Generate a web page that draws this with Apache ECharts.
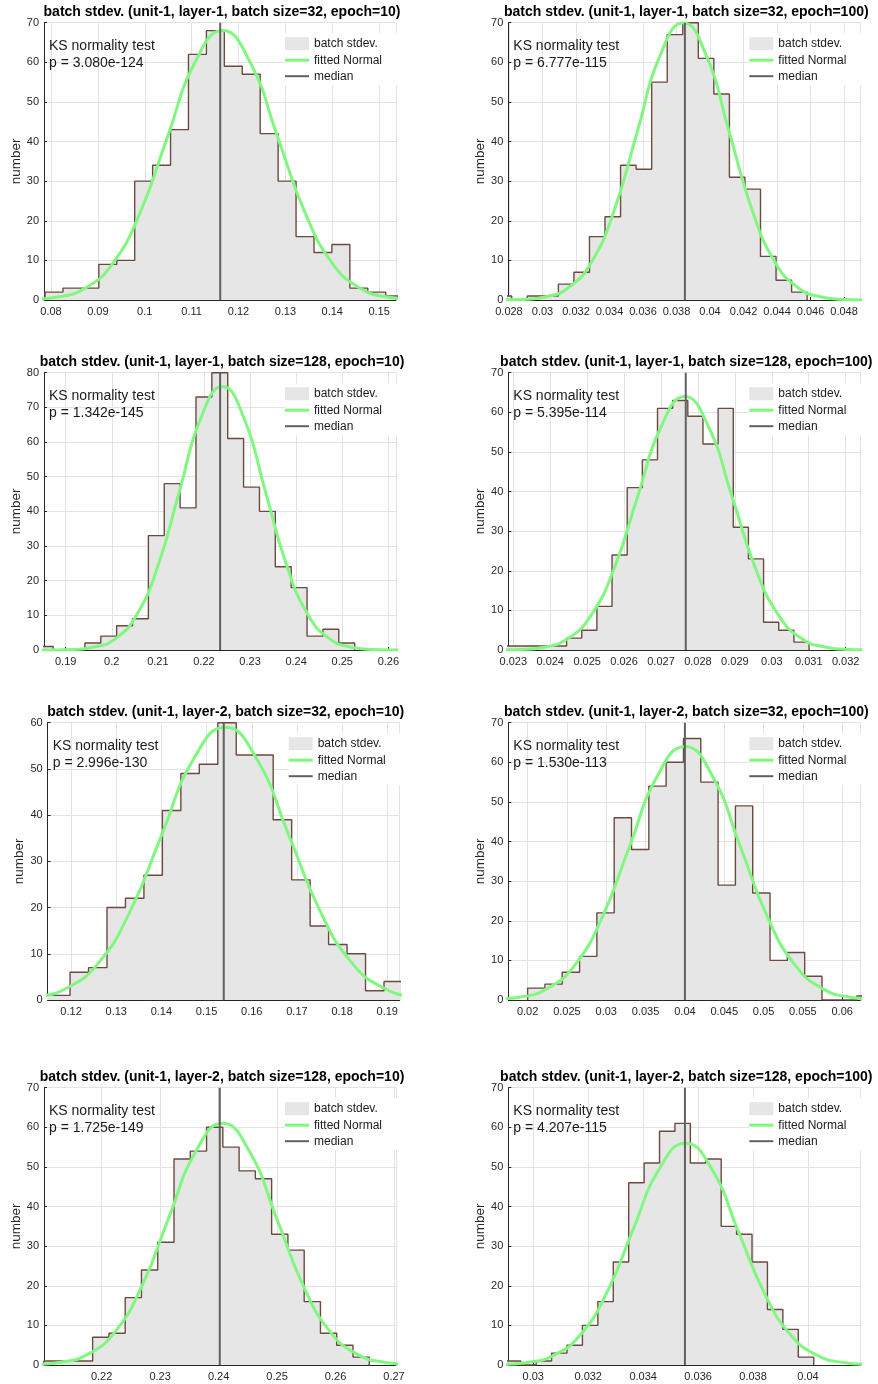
<!DOCTYPE html>
<html><head><meta charset="utf-8">
<script src="https://cdn.jsdelivr.net/npm/echarts@6/dist/echarts.min.js"></script>
<style>html,body{margin:0;padding:0;background:#fff}#chart{width:878px;height:1384px}</style>
</head><body><div id="chart"></div>
<script>
// ---------------- data ----------------
const titles = [
  'batch stdev. (unit-1, layer-1, batch size=32, epoch=10)',
  'batch stdev. (unit-1, layer-1, batch size=32, epoch=100)',
  'batch stdev. (unit-1, layer-1, batch size=128, epoch=10)',
  'batch stdev. (unit-1, layer-1, batch size=128, epoch=100)',
  'batch stdev. (unit-1, layer-2, batch size=32, epoch=10)',
  'batch stdev. (unit-1, layer-2, batch size=32, epoch=100)',
  'batch stdev. (unit-1, layer-2, batch size=128, epoch=10)',
  'batch stdev. (unit-1, layer-2, batch size=128, epoch=100)'
];
const pValues = ['p = 3.080e-124','p = 6.777e-115','p = 1.342e-145','p = 5.395e-114',
                 'p = 2.996e-130','p = 1.530e-113','p = 1.725e-149','p = 4.207e-115'];

// histogram bins: first edge, bin width, counts
const binStart = [0.07872, 0.027237, 0.18385, 0.022802, 0.111602, 0.02, 0.21011, 0.028983];
const binWidth = [0.003826, 0.000928, 0.003442, 0.0004103, 0.004088, 0.0022017, 0.002783, 0.0005612];
const counts1 = [2,3,3,9,10,30,34,43,62,68,59,57,42,30,16,12,14,3,2,1];
const counts2 = [1,0,1,1,4,7,16,21,34,33,55,67,70,61,52,31,28,11,5,2];
const counts3 = [1,0,0,2,4,7,9,33,48,41,73,80,61,47,40,24,18,4,6,2];
const counts4 = [1,1,1,1,3,5,11,24,41,48,61,63,59,52,61,31,23,7,5,2];
const counts5 = [1,1,6,7,20,22,27,41,49,51,60,53,53,39,26,16,12,10,2,4];
const counts6 = [3,4,7,11,22,46,38,54,60,66,55,29,49,27,10,12,6,0,0,1];
const counts7 = [1,1,1,7,8,17,24,31,52,54,60,55,49,47,33,29,16,8,5,2];
const counts8 = [1,0,1,3,5,10,16,26,46,51,59,61,51,52,35,33,26,14,9,2];

const medians = [0.1161, 0.0385, 0.2235, 0.02767, 0.1538, 0.0400, 0.2402, 0.03552];

// fitted Normal curves
const fitX1 = [0.06382,0.06969,0.07555,0.08141,0.08728,0.09314,0.09901,0.10487,0.11074,0.1166,0.12247,0.12833,0.1342,0.14006,0.14593,0.15179,0.15766,0.16352,0.16939];
const fitY1 = [0.003,0.023,0.149,0.755,2.99,9.20,22.08,41.24,60.01,68,60.01,41.24,22.08,9.20,2.99,0.755,0.149,0.023,0.003];
const fitX2 = [0.02606,0.02743,0.0288,0.03017,0.03154,0.03291,0.03429,0.03566,0.03703,0.0384,0.03977,0.04114,0.04251,0.04389,0.04526,0.04663,0.048,0.04937,0.05074];
const fitY2 = [0.003,0.023,0.153,0.778,3.08,9.47,22.73,42.46,61.78,70,61.78,42.46,22.73,9.47,3.08,0.778,0.153,0.023,0.003];
const fitX3 = [0.18235,0.18698,0.1916,0.19623,0.20086,0.20549,0.21012,0.21474,0.21937,0.224,0.22863,0.23326,0.23788,0.24251,0.24714,0.25177,0.2564,0.26102,0.26565];
const fitY3 = [0.003,0.025,0.166,0.844,3.34,10.28,24.68,46.09,67.07,76,67.07,46.09,24.68,10.28,3.34,0.844,0.166,0.025,0.003];
const fitX4 = [0.02192,0.02256,0.02319,0.02383,0.02447,0.0251,0.02574,0.02637,0.02701,0.02764,0.02828,0.02892,0.02955,0.03019,0.03082,0.03146,0.03209,0.03273,0.03337];
const fitY4 = [0.003,0.021,0.14,0.711,2.81,8.66,20.78,38.82,56.48,64,56.48,38.82,20.78,8.66,2.81,0.711,0.14,0.021,0.003];
const fitX5 = [0.09097,0.09799,0.105,0.11202,0.11904,0.12605,0.13307,0.14009,0.1471,0.15412,0.16114,0.16815,0.17517,0.18219,0.1892,0.19622,0.20324,0.21025,0.21727];
const fitY5 = [0.002,0.02,0.129,0.656,2.59,7.98,19.16,35.78,52.07,59,52.07,35.78,19.16,7.98,2.59,0.656,0.129,0.02,0.002];
const fitX6 = [0.00837,0.01189,0.0154,0.01892,0.02243,0.02594,0.02946,0.03297,0.03649,0.04,0.04351,0.04703,0.05054,0.05406,0.05757,0.06108,0.0646,0.06811,0.07163];
const fitY6 = [0.003,0.021,0.14,0.711,2.81,8.66,20.78,38.82,56.48,64,56.48,38.82,20.78,8.66,2.81,0.711,0.14,0.021,0.003];
const fitX7 = [0.19913,0.20375,0.20836,0.21298,0.2176,0.22222,0.22684,0.23145,0.23607,0.24069,0.24531,0.24993,0.25454,0.25916,0.26378,0.2684,0.27302,0.27763,0.28225];
const fitY7 = [0.002,0.02,0.133,0.678,2.68,8.25,19.81,37.0,53.83,61,53.83,37.0,19.81,8.25,2.68,0.678,0.133,0.02,0.002];
const fitX8 = [0.02692,0.02788,0.02884,0.02979,0.03075,0.03171,0.03267,0.03362,0.03458,0.03554,0.0365,0.03745,0.03841,0.03937,0.04033,0.04128,0.04224,0.0432,0.04416];
const fitY8 = [0.002,0.019,0.122,0.622,2.46,7.58,18.18,33.96,49.42,56,49.42,33.96,18.18,7.58,2.46,0.622,0.122,0.019,0.002];

// axes
const xMin  = [0.0785, 0.02796, 0.1853, 0.022865, 0.11483, 0.017545, 0.21014, 0.029091];
const xMax  = [0.15361, 0.04897, 0.26166, 0.032396, 0.19275, 0.0623, 0.27034, 0.041903];
const xStep = [0.01, 0.002, 0.01, 0.001, 0.01, 0.005, 0.01, 0.002];
const yMax  = [70, 70, 80, 70, 60, 70, 70, 70];
const legendNames = ['batch stdev.', 'fitted Normal', 'median'];

// ---------------- layout / style ----------------
const countsAll = [counts1,counts2,counts3,counts4,counts5,counts6,counts7,counts8];
const fitXAll = [fitX1,fitX2,fitX3,fitX4,fitX5,fitX6,fitX7,fitX8];
const fitYAll = [fitY1,fitY2,fitY3,fitY4,fitY5,fitY6,fitY7,fitY8];
const gridLeft = [44, 508.3, 44, 508.3, 47.7, 508.3, 44, 508.3];
const gridTop  = [22.7, 22.7, 372.7, 372.7, 722.7, 722.7, 1087.7, 1087.7];
const W = 352, H = 277.3;
const FONT = '"Liberation Sans", Arial, Helvetica, sans-serif';
const AX = '#262626', GRIDC = '#e3e3e3';
const FILL = '#e6e6e6', EDGE = '#6e4a3e', GREEN = '#80f880', MED = '#606060';

function stairs(start, width, counts) {
  const pts = [[start, 0]];
  counts.forEach((c, k) => pts.push([start + k * width, c]));
  const end = start + counts.length * width;
  pts.push([end, counts[counts.length - 1]]);
  pts.push([end, 0]);
  return pts;
}

const grids = [], xAxes = [], yAxes = [], series = [], legends = [], graphics = [];
for (let i = 0; i < 8; i++) {
  grids.push({left: gridLeft[i], top: gridTop[i], width: W, height: H, containLabel: false});
  xAxes.push({
    type: 'value', gridIndex: i, min: xMin[i], max: xMax[i],
    minInterval: xStep[i], maxInterval: xStep[i], splitNumber: 8,
    axisLine: {show: true, onZero: false, lineStyle: {color: AX, width: 1}},
    axisTick: {show: true, inside: true, length: 3, lineStyle: {color: AX}},
    axisLabel: {fontSize: 11, color: AX, margin: 6, fontFamily: FONT, showMinLabel: false, showMaxLabel: false},
    splitLine: {show: true, lineStyle: {color: GRIDC, width: 1}}
  });
  yAxes.push({
    type: 'value', gridIndex: i, min: 0, max: yMax[i], interval: 10,
    name: 'number', nameLocation: 'middle', nameGap: 21,
    nameTextStyle: {fontSize: 13.5, color: AX, fontFamily: FONT},
    axisLine: {show: true, lineStyle: {color: AX, width: 1}},
    axisTick: {show: true, inside: true, length: 3, lineStyle: {color: AX}},
    axisLabel: {fontSize: 11, color: AX, margin: 5, fontFamily: FONT},
    splitLine: {show: true, lineStyle: {color: GRIDC, width: 1}}
  });
  series.push({
    type: 'line', name: legendNames[0], xAxisIndex: i, yAxisIndex: i,
    data: stairs(binStart[i], binWidth[i], countsAll[i]), step: 'end',
    showSymbol: false, symbol: 'none', silent: true, z: 2,
    lineStyle: {color: EDGE, width: 1.4}, itemStyle: {color: FILL},
    areaStyle: {color: FILL, opacity: 1}
  });
  series.push({
    type: 'line', name: legendNames[1], xAxisIndex: i, yAxisIndex: i,
    data: fitXAll[i].map((x, j) => [x, fitYAll[i][j]]), smooth: true,
    showSymbol: false, symbol: 'none', silent: true, z: 3,
    lineStyle: {color: GREEN, width: 3}, itemStyle: {color: GREEN}
  });
  series.push({
    type: 'line', name: legendNames[2], xAxisIndex: i, yAxisIndex: i,
    data: [[medians[i], 0], [medians[i], yMax[i]]],
    showSymbol: false, symbol: 'none', silent: true, z: 4,
    lineStyle: {color: MED, width: 2}, itemStyle: {color: MED}
  });
  legends.push({
    left: gridLeft[i] + W - 111, top: gridTop[i] + 10.5, orient: 'vertical',
    itemWidth: 24, itemHeight: 13, itemGap: 4, padding: [4, 16, 3, 0],
    backgroundColor: '#ffffff', selectedMode: false, z: 10,
    textStyle: {fontSize: 12, color: '#1a1a1a', fontFamily: FONT},
    data: [
      {name: legendNames[0], icon: 'rect', itemStyle: {color: FILL, borderWidth: 0}},
      {name: legendNames[1], icon: 'path://M0,0H24V3H0Z', itemStyle: {color: GREEN, borderWidth: 0}},
      {name: legendNames[2], icon: 'path://M0,0H24V2H0Z', itemStyle: {color: MED, borderWidth: 0}}
    ]
  });
  graphics.push({type: 'text', x: gridLeft[i] + W / 2 + 2, y: gridTop[i] - 10.7, z: 20,
    style: {text: titles[i], font: 'bold 14px ' + FONT, fill: '#000', align: 'center', verticalAlign: 'middle'}});
  graphics.push({type: 'text', x: gridLeft[i] + 5, y: gridTop[i] + 23.3, z: 20,
    style: {text: 'KS normality test', font: '14px ' + FONT, fill: '#1a1a1a', align: 'left', verticalAlign: 'middle'}});
  graphics.push({type: 'text', x: gridLeft[i] + 5, y: gridTop[i] + 40, z: 20,
    style: {text: pValues[i], font: '14px ' + FONT, fill: '#1a1a1a', align: 'left', verticalAlign: 'middle'}});
}

const chart = echarts.init(document.getElementById('chart'), null, {renderer: 'canvas'});
chart.setOption({
  animation: false,
  backgroundColor: '#ffffff',
  textStyle: {fontFamily: FONT},
  grid: grids, xAxis: xAxes, yAxis: yAxes, series: series, legend: legends, graphic: graphics
});
</script></body></html>
